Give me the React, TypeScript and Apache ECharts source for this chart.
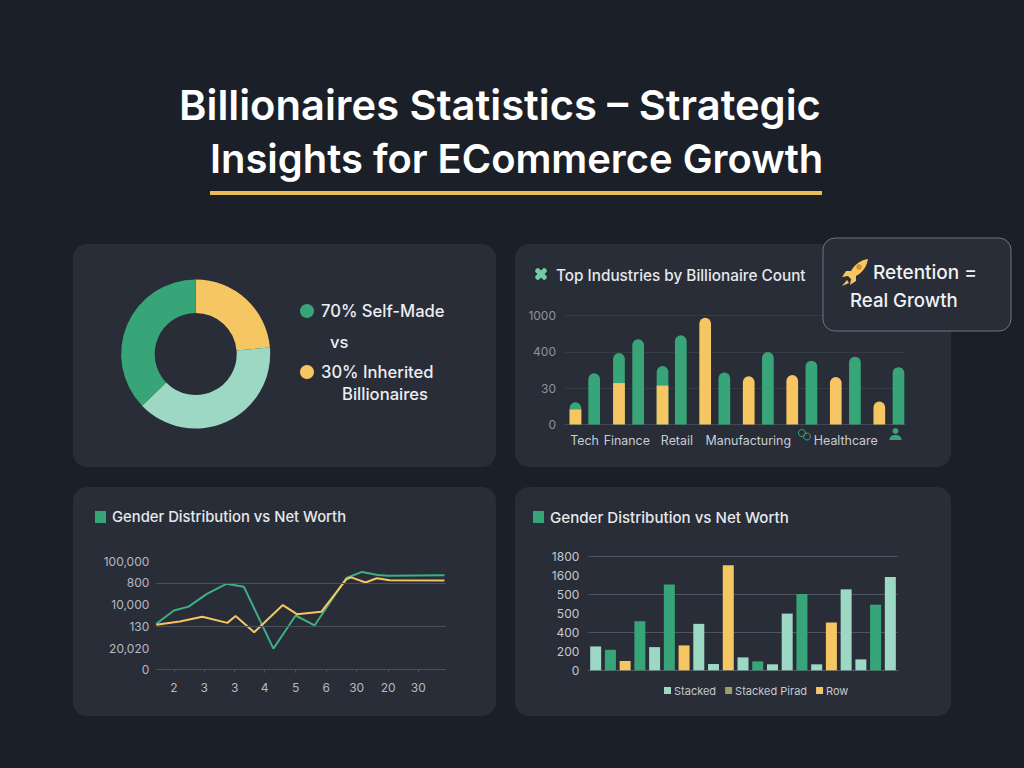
import React, { useEffect, useRef } from "react";
import * as echarts from "echarts";

const GREEN = "#38A578";
const YELLOW = "#F6C662";
const LIGHT = "#9DD8C4";
const CARD = "#282D38";
const FONT = "Inter, sans-serif";

// donut
const donutNames = ["Inherited", "Other Self-Made", "Self-Made"];
const donutValues = [23.6, 39.2, 37.2];

// top industries (x positions on a continuous scale, heights in axis levels)
const industryTicks = ["0", "30", "400", "1000"];
const industryLabels = ["Tech", "Finance", "Retail", "Manufacturing", "Healthcare"];
const industryLabelAt = [0.45, 1.42, 2.57, 4.21, 6.45];
const yellowX = [0.24, 1.24, 2.24, 3.22, 4.22, 5.22, 6.22, 7.22];
const yellowV = [0.41, 1.14, 1.07, 2.94, 1.33, 1.36, 1.31, 0.63];
const totalV = [0.61, 1.97, 1.61, null, null, null, null, null];
const greenX = [0.67, 1.68, 2.66, 3.66, 4.66, 5.66, 6.66, 7.66];
const greenV = [1.41, 2.35, 2.46, 1.43, 2.0, 1.76, 1.87, 1.58];

// line chart
const lineYTicks = ["0", "20,020", "130", "10,000", "800", "100,000"];
const lineXTicks = ["2", "3", "3", "4", "5", "6", "30", "20", "30"];
const lineXAt = [0.58, 1.57, 2.57, 3.55, 4.57, 5.57, 6.57, 7.6, 8.59];
const lineMarks = [2, 4];
const greenLine = [
  [0, 2.12], [0.58, 2.73], [1.06, 2.91], [1.66, 3.5], [2.3, 3.96], [2.87, 3.83], [3.84, 0.97],
  [4.57, 2.5], [5.19, 2.04], [6.23, 4.23], [6.75, 4.51], [7.27, 4.37], [7.6, 4.33], [9.45, 4.36],
];
const yellowLine = [
  [0, 2.07], [0.77, 2.22], [1.51, 2.44], [2.33, 2.16], [2.6, 2.48], [3.21, 1.73], [4.15, 2.98],
  [4.61, 2.56], [5.41, 2.67], [6.23, 4.17], [6.39, 4.26], [6.86, 4.02], [7.23, 4.22], [7.65, 4.13], [9.45, 4.11],
];

// column chart
const colYTicks = ["0", "200", "400", "500", "500", "1600", "1800"];
const colCats = Array.from("abcdefghijklmnopqrstu");
const colMarks = [400, 800, 1200];
const colLight = [251, null, null, null, 244, null, null, 489, 66, null, 136, null, 63, 597, null, 63, null, 852, 115, null, 981];
const colGreen = [null, 216, null, 517, null, 904, null, null, null, null, null, 94, null, null, 803, null, null, null, null, 691, null];
const colYellow = [null, null, 98, null, null, null, 262, null, null, 1106, null, null, null, null, null, null, 503, null, null, null, null];

echarts.graphic.registerShape(
  "rocket",
  echarts.graphic.extendPath(
    "M27 1 C20 2 14 6 10 13 L5 13 L1 19 L7 18 L10 21 L9 27 L15 23 L15 18 C22 14 26 8 27 1 Z M6 22 L1 28 L8 25 Z",
    {}
  )
);
echarts.graphic.registerShape(
  "person",
  echarts.graphic.extendPath("M0 12 C0 8 3 7 6 7 C9 7 12 8 12 12 Z M6 0 A3 3 0 1 1 5.99 0 Z", {})
);

const txt = (text: string, x: number, y: number, size: number, weight: number, fill: string, z = 5) => ({
  type: "text",
  x,
  y,
  z,
  style: {
    text,
    fill,
    font: `${weight} ${size}px ${FONT}`,
    align: "left",
    verticalAlign: "middle",
    textAlign: "left",
    textVerticalAlign: "middle",
  },
});

const card = (x: number, y: number, width: number, height: number) => ({
  type: "rect",
  z: -5,
  shape: { x, y, width, height, r: 14 },
  style: { fill: CARD },
});

const axisLabelColor = "#B4BAC1";
const gridColor = "#4A4F5A";

function buildOption() {
  return {
    animation: false,
    backgroundColor: "#1A1F28",
    textStyle: { fontFamily: FONT },
    graphic: [
      txt("Billionaires Statistics – Strategic", 179, 105, 41.7, 600, "#FFFFFF"),
      txt("Insights for ECommerce Growth", 210, 158, 39.9, 600, "#FFFFFF"),
      { type: "rect", z: 5, shape: { x: 210, y: 191, width: 612, height: 4 }, style: { fill: "#EBBB55" } },
      card(73, 244, 423, 223),
      card(515, 244, 436, 223),
      card(73, 487, 423, 229),
      card(515, 487, 436, 229),
      { type: "circle", z: 5, shape: { cx: 307, cy: 311, r: 7 }, style: { fill: GREEN } },
      { type: "circle", z: 5, shape: { cx: 307, cy: 372, r: 7 }, style: { fill: YELLOW } },
      txt("70% Self-Made", 321, 311, 16.6, 500, "#ECEEF0"),
      txt("vs", 330, 342, 16.6, 500, "#ECEEF0"),
      txt("30% Inherited", 321, 372, 16.6, 500, "#ECEEF0"),
      txt("Billionaires", 342, 394, 16.6, 500, "#ECEEF0"),
      { type: "rect", z: 5, x: 541, y: 274, rotation: Math.PI / 4, shape: { x: -7, y: -2.5, width: 14, height: 5, r: 2 }, style: { fill: "#6FCFA3" } },
      { type: "rect", z: 5, x: 541, y: 274, rotation: -Math.PI / 4, shape: { x: -7, y: -2.5, width: 14, height: 5, r: 2 }, style: { fill: "#6FCFA3" } },
      txt("Top Industries by Billionaire Count", 556, 275, 15.3, 500, "#E6E8EB"),
      { type: "rect", z: 5, shape: { x: 95, y: 511, width: 11, height: 12 }, style: { fill: GREEN } },
      txt("Gender Distribution vs Net Worth", 112, 517, 14.8, 500, "#E6E8EB"),
      { type: "rect", z: 5, shape: { x: 533, y: 511, width: 11, height: 12 }, style: { fill: GREEN } },
      txt("Gender Distribution vs Net Worth", 550, 517, 15.1, 500, "#E6E8EB"),
      { type: "circle", z: 5, shape: { cx: 802, cy: 433, r: 3.5 }, style: { fill: "none", stroke: GREEN, lineWidth: 1 } },
      { type: "circle", z: 5, shape: { cx: 807, cy: 436.5, r: 3.5 }, style: { fill: "none", stroke: GREEN, lineWidth: 1 } },
      { type: "person", z: 5, x: 889.5, y: 428, shape: {}, style: { fill: GREEN } },
      {
        type: "rect",
        z: 50,
        shape: { x: 823, y: 238, width: 188, height: 93, r: 12 },
        style: { fill: CARD, stroke: "#6E7480", lineWidth: 1 },
      },
      { type: "rocket", z: 51, x: 841, y: 258, shape: {}, style: { fill: YELLOW } },
      { type: "circle", z: 52, shape: { cx: 859, cy: 267, r: 2.8 }, style: { fill: "#D98F2B" } },
      txt("Retention =", 873, 272, 19, 500, "#F0F1F3", 51),
      txt("Real Growth", 850, 300, 18.6, 500, "#F0F1F3", 51),
    ],
    grid: [
      { left: 565, top: 315.7, width: 340, height: 108.7 },
      { left: 156.3, top: 561.3, width: 289.4, height: 108.4 },
      { left: 588.3, top: 556.3, width: 309.4, height: 114 },
    ],
    xAxis: [
      {
        gridIndex: 0,
        type: "value",
        min: 0,
        max: 7.81,
        splitLine: { show: false },
        axisLine: { show: true, lineStyle: { color: "#444A55" } },
        axisTick: { show: false },
        axisLabel: {
          color: "#C9CDD2",
          fontSize: 12.4,
          margin: 10,
          customValues: industryLabelAt,
          formatter: (v: number) => industryLabels[industryLabelAt.indexOf(v)] ?? "",
        },
      },
      {
        gridIndex: 1,
        type: "value",
        min: 0,
        max: 9.49,
        splitLine: { show: false },
        axisLine: { show: true, lineStyle: { color: gridColor } },
        axisTick: { show: true, length: 3, lineStyle: { color: gridColor }, customValues: lineXAt },
        axisLabel: {
          color: axisLabelColor,
          fontSize: 12,
          margin: 12,
          customValues: lineXAt,
          formatter: (v: number) => lineXTicks[lineXAt.indexOf(v)] ?? "",
        },
      },
      {
        gridIndex: 2,
        type: "category",
        data: colCats,
        axisLine: { show: true, lineStyle: { color: "#555B66" } },
        axisTick: { show: false },
        axisLabel: { show: false },
      },
    ],
    yAxis: [
      {
        gridIndex: 0,
        type: "value",
        min: 0,
        max: 3,
        interval: 1,
        axisLine: { show: false },
        axisTick: { show: false },
        splitLine: { show: true, lineStyle: { color: "#363B46" } },
        axisLabel: {
          color: "#8C929B",
          fontSize: 12,
          margin: 9,
          formatter: (v: number) => industryTicks[v],
        },
      },
      {
        gridIndex: 1,
        type: "value",
        min: 0,
        max: 5,
        interval: 1,
        axisLine: { show: false },
        axisTick: { show: false },
        splitLine: { show: false },
        axisLabel: {
          color: axisLabelColor,
          fontSize: 12,
          margin: 7,
          formatter: (v: number) => lineYTicks[v],
        },
      },
      {
        gridIndex: 2,
        type: "value",
        min: 0,
        max: 1200,
        interval: 200,
        axisLine: { show: false },
        axisTick: { show: false },
        splitLine: { show: false },
        axisLabel: {
          color: "#C4C9CE",
          fontSize: 12,
          margin: 9,
          formatter: (v: number) => colYTicks[v / 200],
        },
      },
    ],
    legend: {
      show: true,
      left: 664,
      top: 685,
      itemWidth: 7,
      itemHeight: 7,
      itemGap: 9,
      padding: 0,
      icon: "rect",
      textStyle: { color: "#C4C9CE", fontSize: 11, padding: [0, 0, 0, -2] },
      data: [
        { name: "Stacked", itemStyle: { color: LIGHT } },
        { name: "Stacked Pirad", itemStyle: { color: "#9C9C6E" } },
        { name: "Row", itemStyle: { color: YELLOW } },
      ],
    },
    series: [
      {
        type: "pie",
        center: [195.7, 354],
        radius: [41, 74.5],
        startAngle: 90,
        clockwise: true,
        silent: true,
        label: { show: false },
        labelLine: { show: false },
        data: donutNames.map((name, i) => ({
          name,
          value: donutValues[i],
          itemStyle: { color: [YELLOW, LIGHT, GREEN][i] },
        })),
      },
      {
        type: "bar",
        name: "total",
        xAxisIndex: 0,
        yAxisIndex: 0,
        barWidth: 11.7,
        barGap: "-100%",
        itemStyle: { color: GREEN, borderRadius: [6, 6, 0, 0] },
        data: yellowX.map((x, i) => [x, totalV[i]]),
      },
      {
        type: "bar",
        name: "yellow",
        xAxisIndex: 0,
        yAxisIndex: 0,
        barWidth: 11.7,
        barGap: "-100%",
        data: yellowX.map((x, i) => ({
          value: [x, yellowV[i]],
          itemStyle: {
            color: YELLOW,
            borderRadius: totalV[i] !== null ? 0 : [6, 6, 0, 0],
          },
        })),
      },
      {
        type: "bar",
        name: "green",
        xAxisIndex: 0,
        yAxisIndex: 0,
        barWidth: 11.7,
        barGap: "-100%",
        itemStyle: { color: GREEN, borderRadius: [6, 6, 0, 0] },
        data: greenX.map((x, i) => [x, greenV[i]]),
      },
      {
        type: "line",
        name: "greenLine",
        xAxisIndex: 1,
        yAxisIndex: 1,
        symbol: "none",
        z: 3,
        lineStyle: { color: "#3FAF82", width: 2 },
        data: greenLine,
        markLine: {
          silent: true,
          symbol: "none",
          label: { show: false },
          lineStyle: { color: gridColor, type: "solid", width: 1 },
          data: lineMarks.map((yAxis) => ({ yAxis })),
        },
      },
      {
        type: "line",
        name: "yellowLine",
        xAxisIndex: 1,
        yAxisIndex: 1,
        symbol: "none",
        z: 4,
        lineStyle: { color: YELLOW, width: 2 },
        data: yellowLine,
      },
      {
        type: "bar",
        name: "Stacked",
        xAxisIndex: 2,
        yAxisIndex: 2,
        barWidth: 11,
        barGap: "-100%",
        itemStyle: { color: LIGHT },
        data: colLight,
        markLine: {
          silent: true,
          symbol: "none",
          z: 1,
          label: { show: false },
          lineStyle: { color: "#4F5560", type: "solid", width: 1 },
          data: colMarks.map((yAxis) => ({ yAxis })),
        },
      },
      {
        type: "bar",
        name: "Stacked Pirad",
        xAxisIndex: 2,
        yAxisIndex: 2,
        barWidth: 11,
        barGap: "-100%",
        itemStyle: { color: GREEN },
        data: colGreen,
      },
      {
        type: "bar",
        name: "Row",
        xAxisIndex: 2,
        yAxisIndex: 2,
        barWidth: 11,
        barGap: "-100%",
        itemStyle: { color: YELLOW },
        data: colYellow,
      },
    ],
  };
}

export default function App() {
  const ref = useRef<HTMLDivElement>(null);
  useEffect(() => {
    const chart = echarts.init(ref.current!, undefined, { renderer: "svg" });
    chart.setOption(buildOption() as any);
    return () => chart.dispose();
  }, []);
  return <div ref={ref} style={{ position: "fixed", left: 0, top: 0, width: 1024, height: 768 }} />;
}
